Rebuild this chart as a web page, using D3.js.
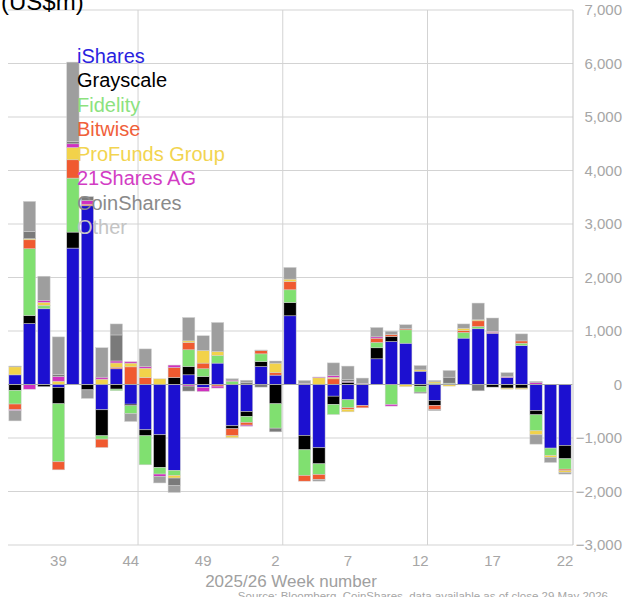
<!DOCTYPE html>
<html>
<meta charset="utf-8">
<style>
body { margin: 0; background: #fff; font-family: 'Liberation Sans', Arial, sans-serif; }
svg { display: block; }
.grid line { stroke: #d3d3d3; stroke-width: 1; }
.zero { stroke: #a8a8a8; stroke-width: 1.2; }
text.tick { fill: #a6a6a6; font-size: 15px; }
text.unit { fill: #000; font-size: 24px; }
text.legend { font-size: 20px; }
text.xtitle { fill: #a0a0a0; font-size: 17px; }
text.source { fill: #a6a6a6; font-size: 11.5px; }
</style>
<body>
<svg width="628" height="597"></svg>
<script src="https://cdn.jsdelivr.net/npm/d3@7"></script>
<script>

var weeks = [36,37,38,39,40,41,42,43,44,45,46,47,48,49,50,51,52,1,2,3,4,5,6,7,8,9,10,11,12,13,14,15,16,17,18,19,20,21,22];
var tickWeeks = [39,44,49,2,7,12,17,22];
var yTicks = [-3000,-2000,-1000,0,1000,2000,3000,4000,5000,6000,7000];
var issuers = ["iShares","Grayscale","Fidelity","Bitwise","ProFunds Group","21Shares AG","CoinShares","Other"];
var colors = ["#1c10d0","#000000","#80e070","#f05a30","#f2d24a","#d030c0","#7a7a7a","#9e9e9e"];
var legendColors = ["#2a1fe0","#000000","#8ce27e","#f0603a","#f2d450","#d23cc4","#8a8a8a","#c4c4c4"];

// weekly flows, US$m, one value per week in the order of `weeks`
var iShares   = [180,1140,1415,-56,2550,3340,-473,293,-367,-847,-940,-1607,181,-56,400,-772,-505,336,175,1284,-953,-1183,-218,-286,-393,480,804,772,249,-299,15,867,1041,959,131,729,-486,-1189,-1140];
var grayscale = [-110,150,-40,-305,299,-100,-486,-86,-30,-112,-611,131,156,150,0,-56,-93,93,-361,249,-268,-300,-156,43,0,206,93,0,-31,-93,0,0,0,-49,-67,-67,-81,0,-249];
var fidelity  = [-255,1247,56,-1084,1009,0,-62,-30,-150,-542,-123,-93,312,144,142,63,-112,144,-455,237,-480,-200,-187,-150,0,100,-374,250,-112,25,10,105,43,0,0,43,-299,-138,-193];
var bitwise   = [-105,168,10,-150,342,30,-157,30,330,130,0,187,137,106,-30,-131,-49,62,49,155,-106,-93,106,-30,-43,80,37,20,0,-80,0,37,106,15,0,43,0,0,-31];
var proFunds  = [150,20,56,62,230,0,100,80,70,175,106,-49,30,236,75,-37,0,0,175,45,0,125,30,-45,0,0,0,-40,25,25,-30,43,20,0,-20,-20,-75,-37,-31];
var shares21  = [-20,-88,37,88,69,67,37,37,25,30,-43,45,-30,-75,-37,20,-20,0,0,0,20,15,31,15,20,25,-30,0,0,0,0,0,0,20,15,0,40,0,0];
var coinShares= [15,137,0,37,43,75,0,486,0,0,0,-144,-93,0,0,0,40,-49,-69,0,0,0,0,37,0,0,0,0,-20,-15,112,0,-118,0,0,0,15,0,0];
var other     = [-190,560,450,703,1484,-160,550,206,-144,330,-123,-125,436,275,542,25,40,10,40,218,55,-30,237,249,100,174,62,75,80,25,125,80,312,249,75,131,-174,-93,-31];

var series = [iShares, grayscale, fidelity, bitwise, proFunds, shares21, coinShares, other];

var svg = d3.select("svg");
var plotLeft = 8, plotRight = 572, plotTop = 10, plotBottom = 545;

var table = weeks.map(function(w, i) {
  var row = { week: w };
  issuers.forEach(function(k, j) { row[k] = series[j][i]; });
  return row;
});

var x = d3.scaleBand().domain(weeks).range([plotLeft, plotRight]).paddingInner(0.15).paddingOuter(0.06);
var y = d3.scaleLinear().domain([-3000, 7000]).range([plotBottom, plotTop]);
var color = d3.scaleOrdinal().domain(issuers).range(colors);

// horizontal grid
svg.append("g").attr("class", "grid").selectAll("line").data(yTicks).enter().append("line")
  .attr("x1", plotLeft).attr("x2", plotRight + 1)
  .attr("y1", function(d) { return y(d); }).attr("y2", function(d) { return y(d); });

// vertical grid every 10 weeks (right edge of the band)
var vlines = [44, 2, 12];
svg.append("g").attr("class", "grid").selectAll("line").data(vlines).enter().append("line")
  .attr("x1", function(d) { return x(d) + x.bandwidth() + x.step() * 0.075; })
  .attr("x2", function(d) { return x(d) + x.bandwidth() + x.step() * 0.075; })
  .attr("y1", plotTop).attr("y2", plotBottom);

var stack = d3.stack().keys(issuers).offset(d3.stackOffsetDiverging);
var layers = stack(table);

svg.append("g").selectAll("g").data(layers).enter().append("g")
  .attr("fill", function(d) { return color(d.key); })
  .selectAll("rect").data(function(d) { return d; }).enter().append("rect")
  .attr("x", function(d) { return x(d.data.week); })
  .attr("width", x.bandwidth())
  .attr("y", function(d) { return y(d[1]); })
  .attr("height", function(d) { return Math.abs(y(d[0]) - y(d[1])); })
  .attr("stroke", "#cfcfcf").attr("stroke-width", 0.5);

// zero line on top of bars
svg.append("line").attr("class", "zero")
  .attr("x1", plotLeft).attr("x2", plotRight).attr("y1", y(0)).attr("y2", y(0));

// right axis line
svg.append("line").attr("x1", plotRight + 1).attr("x2", plotRight + 1).attr("y1", plotTop).attr("y2", plotBottom)
  .attr("stroke", "#c4c4c4").attr("stroke-width", 1);

svg.append("g").selectAll("text").data(yTicks).enter().append("text")
  .attr("class", "tick").attr("text-anchor", "end")
  .attr("x", 622).attr("y", function(d) { return y(d) + 5; })
  .text(function(d) { return d3.format(",")(d); });

svg.append("g").selectAll("text").data(tickWeeks).enter().append("text")
  .attr("class", "tick").attr("text-anchor", "middle")
  .attr("x", function(d) { return x(d) + x.bandwidth() / 2; }).attr("y", 566)
  .text(function(d) { return d; });

svg.append("text").attr("class", "xtitle").attr("text-anchor", "middle")
  .attr("x", 291).attr("y", 587).text("2025/26 Week number");

svg.append("text").attr("class", "source").attr("text-anchor", "end")
  .attr("x", 608).attr("y", 600)
  .text("Source: Bloomberg, CoinShares, data available as of close 29 May 2026");

svg.append("text").attr("class", "unit").attr("x", 1).attr("y", 10).text("(US$m)");

svg.append("g").selectAll("text").data(issuers).enter().append("text")
  .attr("class", "legend").attr("x", 77)
  .attr("y", function(d, i) { return 62.5 + i * 24.5; })
  .attr("fill", function(d, i) { return legendColors[i]; })
  .text(function(d) { return d; });

</script>
</body>
</html>
